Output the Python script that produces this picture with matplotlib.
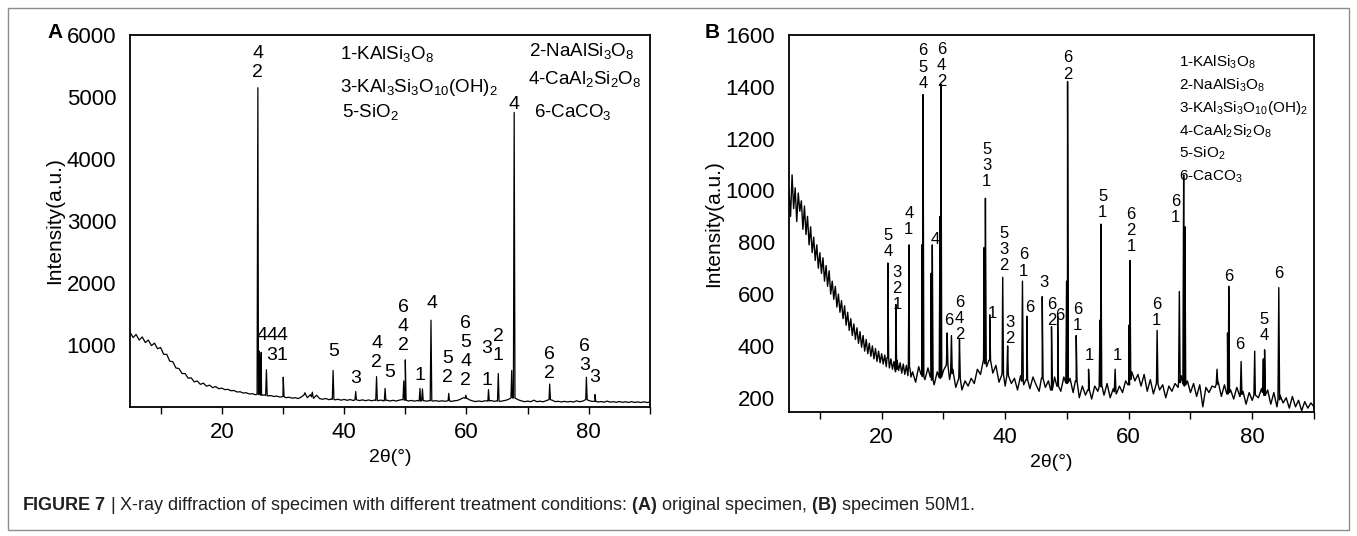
import numpy as np
import matplotlib
matplotlib.use('Agg')
import matplotlib.pyplot as plt
from matplotlib.patches import Rectangle
from matplotlib.ticker import MultipleLocator

plt.rcParams['font.family'] = ['Liberation Sans', 'DejaVu Sans']
plt.rcParams['mathtext.fontset'] = 'custom'
plt.rcParams['mathtext.rm'] = 'Liberation Sans'
plt.rcParams['mathtext.it'] = 'Liberation Sans:italic'
plt.rcParams['mathtext.bf'] = 'Liberation Sans:bold'
plt.rcParams['mathtext.default'] = 'regular'

# sampling grids of the background readings
theta_a = np.arange(5, 90.25, 0.5)
theta_b = np.concatenate([np.arange(5, 25, 0.25), np.arange(25, 90.25, 0.5)])

# background of the original specimen (A), read every 0.5 deg
base_a = [1210, 1120, 1170, 1080, 1130, 1040, 1080, 990, 1030, 940,
          960, 850, 850, 740, 730, 630, 620, 540, 540, 465,
          470, 405, 420, 365, 385, 335, 352, 312, 330, 295,
          305, 280, 285, 262, 266, 242, 246, 225, 230, 210,
          215, 198, 205, 190, 195, 178, 185, 170, 176, 160,
          168, 150, 158, 142, 150, 136, 160, 210, 150, 200,
          140, 190, 135, 125, 138, 118, 130, 115, 125, 110,
          122, 108, 120, 105, 118, 104, 115, 102, 114, 100,
          112, 100, 112, 98, 110, 97, 108, 96, 110, 120,
          112, 96, 106, 94, 105, 95, 104, 93, 105, 95,
          102, 92, 100, 92, 101, 90, 100, 105, 125, 150,
          140, 115, 98, 88, 97, 88, 100, 95, 105, 92,
          98, 90, 100, 110, 130, 150, 140, 115, 98, 86,
          95, 85, 110, 86, 94, 84, 100, 120, 110, 86,
          92, 82, 91, 82, 90, 80, 100, 85, 95, 120,
          105, 90, 92, 80, 88, 78, 95, 78, 86, 76,
          88, 76, 84, 74, 86, 74, 82, 72, 84, 72, 80]

# background of specimen 50M1 (B): every 0.25 deg below 25, then every 0.5 deg
base_b = [1000, 900, 1060, 930, 1010, 880, 990, 920, 960, 850,
          940, 830, 900, 790, 860, 760, 820, 730, 790, 700,
          760, 680, 740, 650, 710, 630, 690, 600, 650, 580,
          630, 550, 600, 530, 575, 505, 555, 480, 530, 460,
          505, 440, 485, 425, 470, 410, 455, 395, 440, 380,
          425, 370, 410, 360, 400, 350, 390, 340, 380, 335,
          370, 330, 365, 320, 355, 315, 350, 310, 340, 300,
          345, 305, 335, 295, 330, 290, 325, 285, 320, 280,
          300, 260, 320, 290, 270, 315, 280, 250, 300, 275,
          305, 340, 270, 310, 240, 285, 230, 265, 245, 275,
          255, 310, 290, 350, 320, 345, 295, 325, 260, 300,
          245, 295, 255, 275, 230, 285, 250, 270, 235, 280,
          250, 225, 275, 240, 265, 230, 280, 245, 225, 280,
          255, 275, 220, 265, 200, 245, 210, 230, 195, 245,
          225, 250, 210, 255, 200, 235, 215, 245, 220, 265,
          250, 300, 265, 290, 245, 290, 225, 270, 215, 260,
          230, 250, 200, 245, 225, 255, 240, 285, 245, 265,
          220, 255, 205, 250, 165, 240, 220, 245, 240, 260,
          205, 250, 215, 230, 195, 240, 205, 225, 175, 220,
          190, 215, 200, 235, 210, 230, 175, 220, 165, 210,
          180, 200, 160, 205, 165, 190, 150, 185, 160, 180, 165]

# diffraction peaks: (2theta, intensity)
peaks_a = [(25.9, 5150), (26.15, 900), (26.45, 880), (27.3, 600), (30.05, 480),
           (33.6, 230), (34.8, 240), (38.2, 590), (41.9, 250), (45.3, 490),
           (46.7, 300), (49.75, 420), (50.0, 760), (52.4, 300), (52.8, 290),
           (54.2, 1400), (57.1, 220), (59.9, 190), (63.6, 280), (65.2, 540),
           (67.4, 590), (67.8, 4750), (73.6, 370), (79.6, 480), (81.0, 200)]

peaks_b = [(21.0, 720), (22.3, 560), (24.45, 790), (26.5, 790), (26.7, 1370),
           (28.0, 680), (28.2, 790), (29.45, 900), (29.6, 1410), (30.6, 450),
           (31.3, 440), (32.6, 425), (36.6, 780), (36.8, 970), (37.5, 520),
           (39.6, 665), (40.4, 400), (42.8, 650), (43.5, 515), (46.0, 590),
           (47.5, 475), (48.5, 515), (49.95, 650), (50.1, 1420), (51.5, 440),
           (53.5, 310), (55.35, 500), (55.5, 870), (57.8, 310), (60.0, 480),
           (60.2, 730), (64.6, 460), (68.2, 610), (68.9, 1060), (69.1, 860),
           (74.3, 310), (76.0, 450), (76.2, 630), (78.2, 340), (80.4, 380),
           (81.8, 350), (82.0, 385), (84.3, 625)]

# phase labels above the peaks: (2theta, intensity at text bottom, text)
labels_a = [(25.9, 5260, '4\n2'), (26.5, 1016, '4'), (28.2, 1016, '4'),
            (29.9, 1016, '4'), (28.2, 700, '3'), (29.8, 700, '1'),
            (38.3, 760, '5'), (41.9, 323, '3'), (45.3, 580, '4\n2'),
            (47.5, 420, '5'), (49.7, 855, '6\n4\n2'), (52.4, 370, '1'),
            (54.3, 1530, '4'), (56.9, 340, '5\n2'), (59.9, 290, '6\n5\n4\n2'),
            (63.3, 810, '3'), (63.4, 290, '1'), (65.2, 690, '2\n1'),
            (67.7, 4740, '4'), (73.6, 400, '6\n2'), (79.3, 530, '6\n3'),
            (80.9, 340, '3')]

labels_b = [(21.0, 735, '5\n4'), (22.5, 530, '3\n2\n1'), (24.4, 820, '4\n1'),
            (26.7, 1385, '6\n5\n4'), (28.7, 780, '4'), (29.7, 1390, '6\n4\n2'),
            (30.9, 470, '6'), (32.6, 415, '6\n4\n2'), (37.0, 1005, '5\n3\n1'),
            (37.9, 495, '1'), (39.8, 680, '5\n3\n2'), (40.7, 400, '3\n2'),
            (43.0, 660, '6\n1'), (43.9, 520, '6'), (46.2, 615, '3'),
            (47.6, 470, '6\n2'), (48.8, 490, '6'), (50.2, 1420, '6\n2'),
            (51.7, 450, '6\n1'), (53.7, 335, '1'), (55.8, 885, '5\n1'),
            (58.1, 335, '1'), (60.4, 755, '6\n2\n1'), (64.5, 470, '6\n1'),
            (67.6, 865, '6\n1'), (76.2, 640, '6'), (77.9, 375, '6'),
            (81.9, 410, '5\n4'), (84.3, 650, '6')]

phases = ['1-KAlSi$_3$O$_8$', '2-NaAlSi$_3$O$_8$',
          '3-KAl$_3$Si$_3$O$_{10}$(OH)$_2$', '4-CaAl$_2$Si$_2$O$_8$',
          '5-SiO$_2$', '6-CaCO$_3$']

caption = (r'$\mathbf{FIGURE\ 7}$ | X-ray diffraction of specimen with different '
           r'treatment conditions: $\mathbf{(A)}$ original specimen, '
           r'$\mathbf{(B)}$ specimen 50M1.')


def profile(grid, base, peaks, hw=0.13):
    xs = list(grid)
    ys = list(base)
    for p, h in peaks:
        foot = np.interp(p, grid, base)
        xs += [p - hw, p, p + hw]
        ys += [foot, h, foot]
    order = np.argsort(xs, kind='stable')
    return np.array(xs)[order], np.array(ys)[order]


W, H = 1357, 536
fig = plt.figure(figsize=(W / 100, H / 100), dpi=100)

axA = fig.add_axes([130 / W, 1 - 407 / H, 520 / W, 372 / H])
axB = fig.add_axes([789 / W, 1 - 412 / H, 525 / W, 377 / H])


def style(ax):
    for s in ax.spines.values():
        s.set_linewidth(1.3)
    ax.set_xlim(5, 90)
    ax.xaxis.set_major_locator(MultipleLocator(20))
    ax.xaxis.set_minor_locator(MultipleLocator(10))
    ax.tick_params(axis='x', which='both', direction='out', length=5, width=1,
                   labelsize=16, pad=6)
    ax.tick_params(axis='y', length=0, labelsize=16, pad=10)
    ax.set_xlabel('2θ(°)', fontsize=14, labelpad=4)
    ax.set_ylabel('Intensity(a.u.)', fontsize=15, labelpad=2)


# panel A
x, y = profile(theta_a, base_a, peaks_a)
axA.plot(x, y, color='black', lw=0.9)
style(axA)
axA.set_ylim(0, 6000)
axA.set_yticks([1000, 2000, 3000, 4000, 5000, 6000])
for lx, ly, t in labels_a:
    axA.text(lx, ly, t, ha='center', va='bottom', fontsize=14, linespacing=1.15)
legA_x = [39.3, 70.2, 39.3, 70.1, 39.7, 71.0]
legA_y = [5610, 5660, 5080, 5210, 4680, 4680]
for t, lx, ly in zip(phases, legA_x, legA_y):
    axA.text(lx, ly, t, ha='left', va='baseline', fontsize=13.5)

# panel B
x, y = profile(theta_b, base_b, peaks_b)
axB.plot(x, y, color='black', lw=1.0)
style(axB)
axB.set_ylim(145, 1600)
axB.set_yticks(np.arange(200, 1601, 200))
for lx, ly, t in labels_b:
    axB.text(lx, ly, t, ha='center', va='bottom', fontsize=12, linespacing=1.1)
for i, t in enumerate(phases):
    axB.text(68.2, 1477 - i * 88, t, ha='left', va='baseline', fontsize=11)

fig.text(55 / W, 1 - 33 / H, 'A', fontsize=15, fontweight='bold', ha='center', va='center')
fig.text(712 / W, 1 - 33 / H, 'B', fontsize=15, fontweight='bold', ha='center', va='center')

fig.text(22 / W, 1 - 506 / H, caption, fontsize=13, ha='left', va='center', color='#231f20')

fig.patches.append(Rectangle((8 / W, 6 / H), 1341 / W, 522 / H, transform=fig.transFigure,
                             fill=False, edgecolor='#8c8c8c', lw=1))

fig.savefig('out.png', dpi=100)
